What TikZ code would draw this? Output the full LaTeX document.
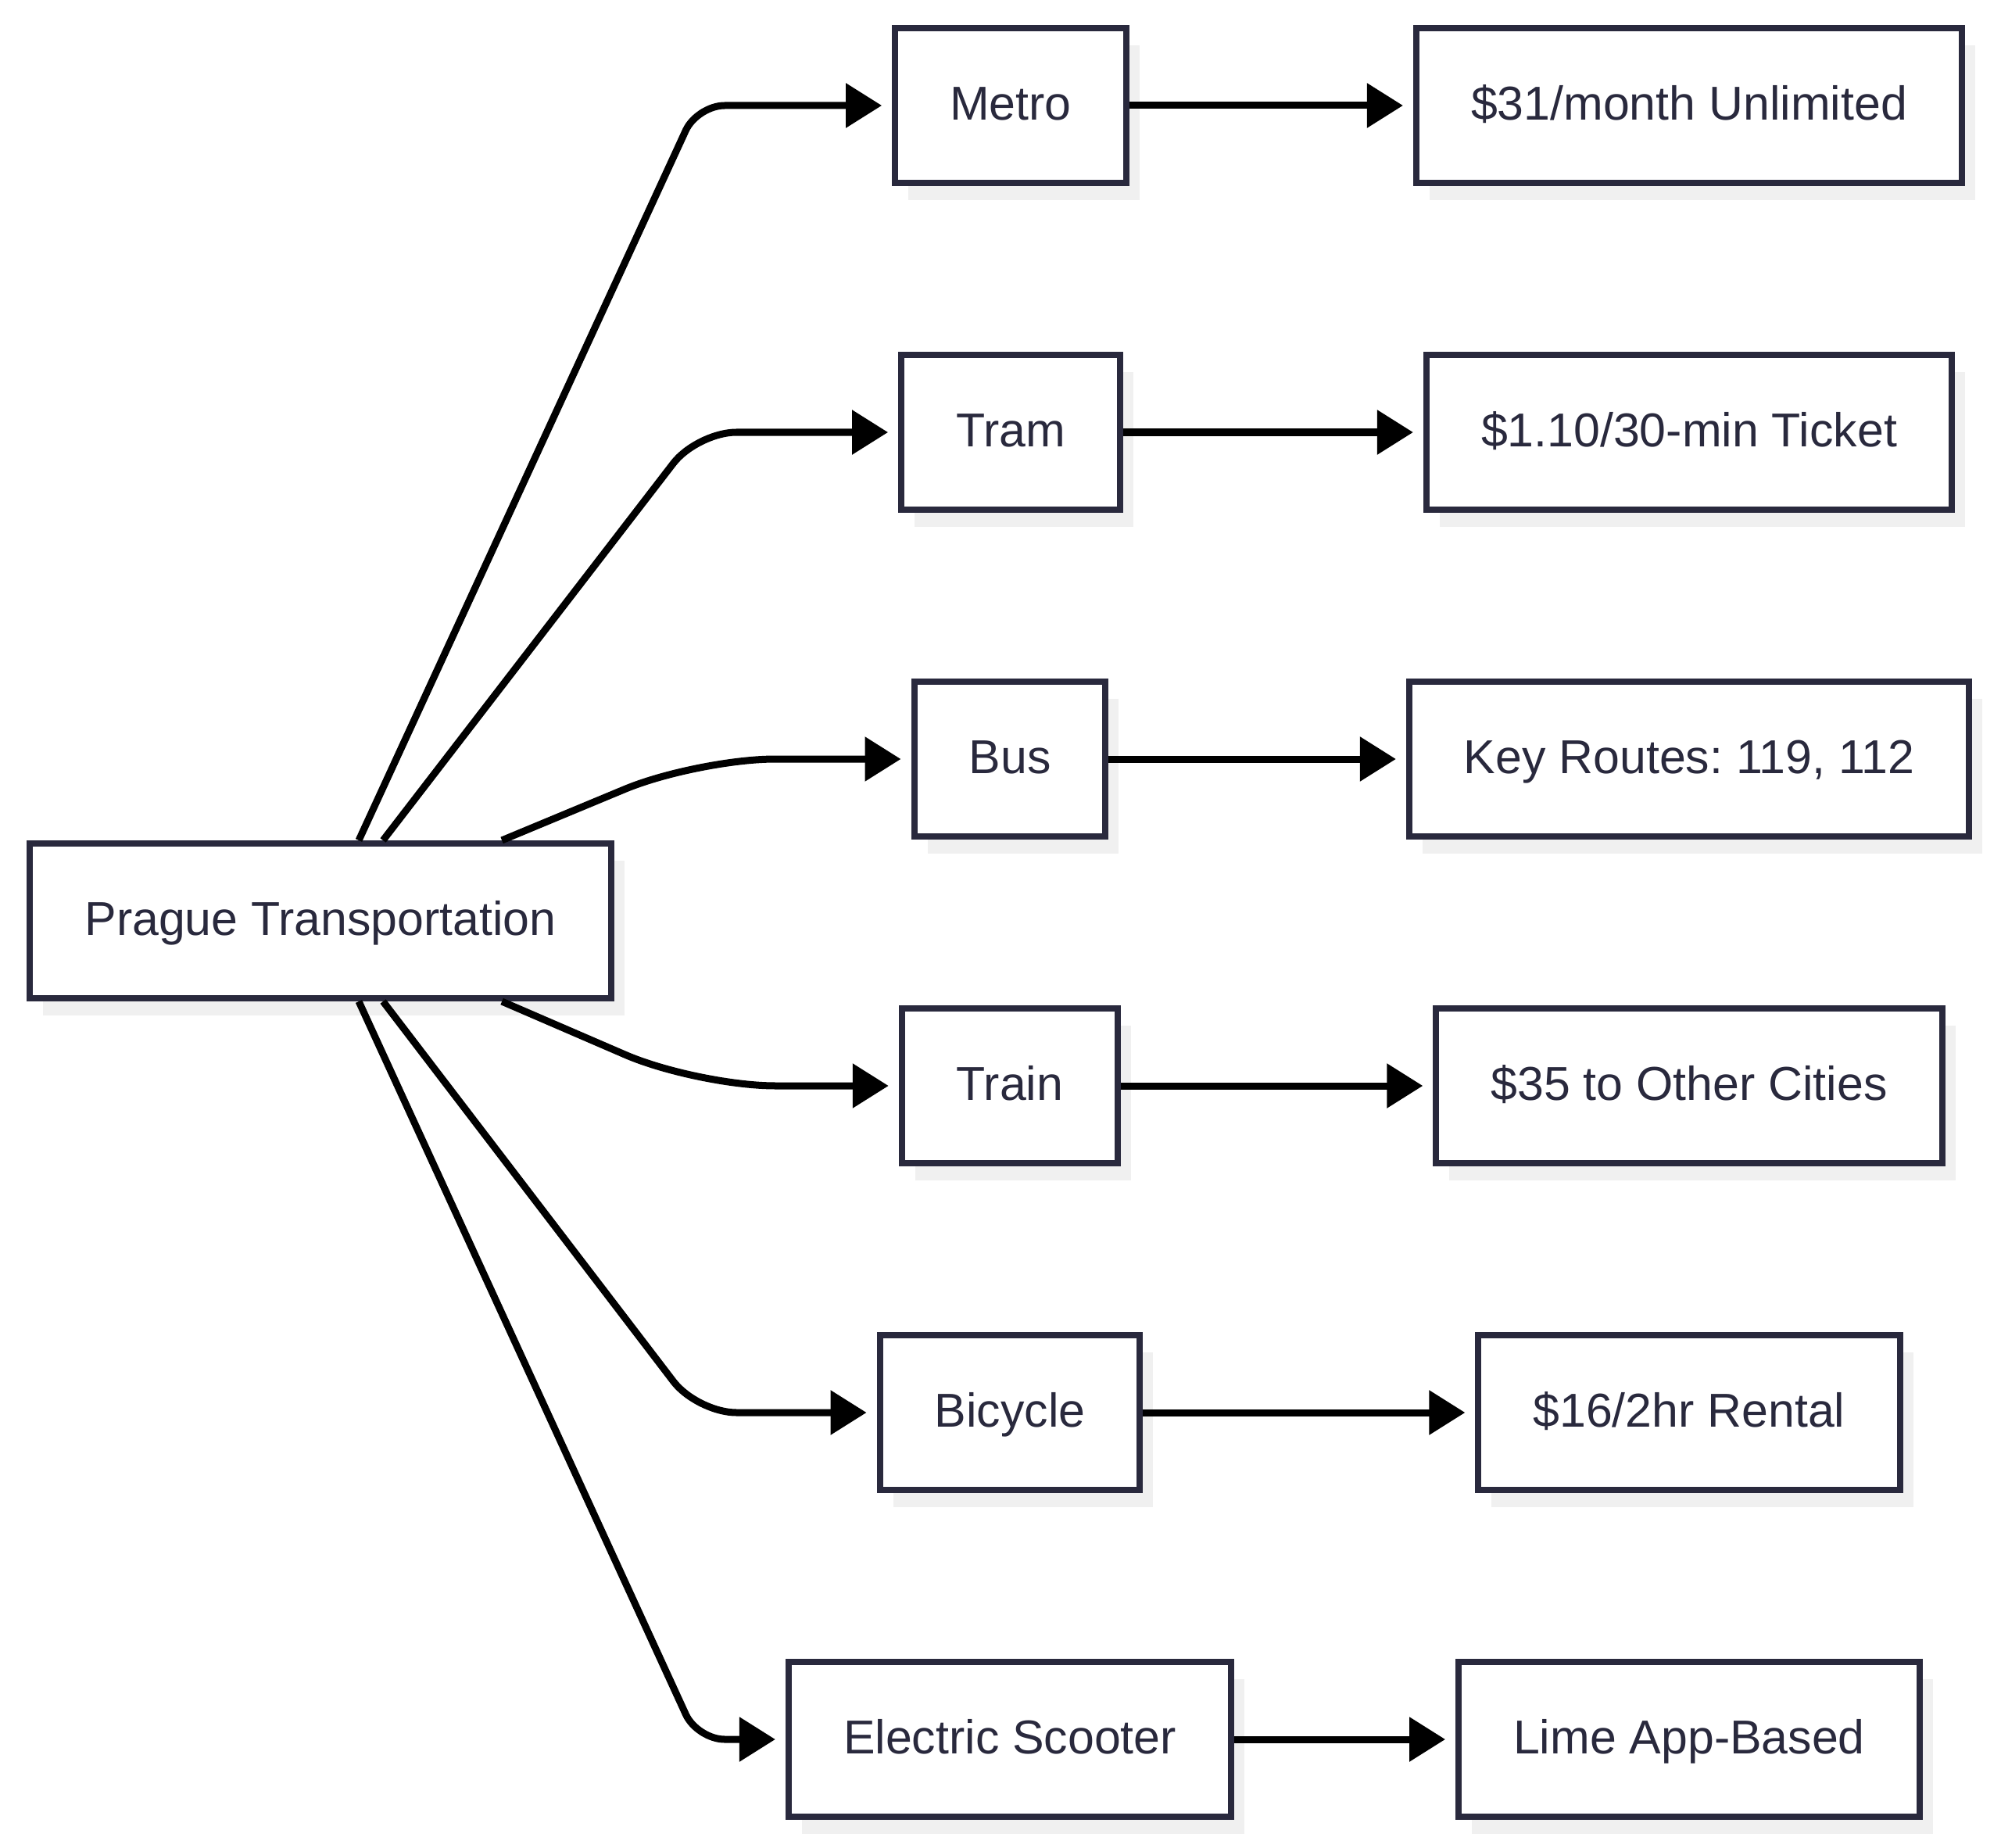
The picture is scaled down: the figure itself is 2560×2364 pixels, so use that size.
\documentclass[tikz,border=0pt]{standalone}
\usepackage{fontspec}
\setmainfont{Liberation Sans}
\usepackage{tikz}
\usetikzlibrary{arrows.meta,positioning,calc,shadows}
\definecolor{boxline}{RGB}{41,41,61}
\definecolor{boxshade}{RGB}{240,240,240}
\frenchspacing

\begin{document}
\begin{tikzpicture}[x=0.01cm,y=-0.01cm,
  mode/.style={draw=boxline,line width=0.08cm,fill=white,text=boxline,
    inner xsep=0.70cm,minimum height=1.98cm,text height=1.26em,text depth=0.2em,
    font=\fontsize{17.3}{20.8}\selectfont,
    drop shadow={shadow xshift=0.17cm,shadow yshift=-0.22cm,fill=boxshade,opacity=1}},
  link/.style={line width=0.09cm,-{Triangle[length=0.46cm,width=0.55cm]},shorten >=0.13cm}]
  \useasboundingbox (0,0) rectangle (2560,2364); % 図全体の大きさ（余白を含む）
  \node[mode] (pt) at (410,1178) {Prague Transportation}; % 左端の起点となる箱
  \node[mode] (metro) at (1293,135) {Metro}; % 中央列：地下鉄
  \node[mode] (tram) at (1293,553) {Tram}; % 中央列：路面電車
  \node[mode] (bus) at (1292,971) {Bus}; % 中央列：バス
  \node[mode] (train) at (1292,1389) {Train}; % 中央列：鉄道
  \node[mode] (bike) at (1292,1807) {Bicycle}; % 中央列：自転車
  \node[mode] (scooter) at (1292,2225) {Electric Scooter}; % 中央列：電動キックボード
  \node[mode] (metrocost) at (2161,135) {\$31/month Unlimited}; % 右列：地下鉄の料金
  \node[mode] (tramcost) at (2161,553) {\$1.10/30-min Ticket}; % 右列：路面電車の料金
  \node[mode] (busroute) at (2161,971) {Key Routes: 119, 112}; % 右列：主なバス路線
  \node[mode] (traincost) at (2161,1389) {\$35 to Other Cities}; % 右列：鉄道の料金
  \node[mode] (bikecost) at (2161,1807) {\$16/2hr Rental}; % 右列：自転車の料金
  \node[mode] (scooterapp) at (2161,2225) {Lime App-Based}; % 右列：キックボードの利用方法
  \coordinate (bend) at (892,0); % 折れ曲がり位置の横座標
  \draw[link,rounded corners=0.35cm] ([xshift=0.49cm]pt.north) -- (bend |- metro) -- (metro.west); % 起点から地下鉄へ
  \draw[link,rounded corners=0.5cm] ([xshift=0.80cm]pt.north) -- (bend |- tram) -- (tram.west); % 起点から路面電車へ
  \draw[link,rounded corners=1.0cm] ([xshift=2.32cm]pt.north) -- (bend |- bus) -- (bus.west); % 起点からバスへ
  \draw[link,rounded corners=1.0cm] ([xshift=2.32cm]pt.south) -- (bend |- train) -- (train.west); % 起点から鉄道へ
  \draw[link,rounded corners=0.5cm] ([xshift=0.80cm]pt.south) -- (bend |- bike) -- (bike.west); % 起点から自転車へ
  \draw[link,rounded corners=0.35cm] ([xshift=0.49cm]pt.south) -- (bend |- scooter) -- (scooter.west); % 起点からキックボードへ
  \draw[link] (metro) -- (metrocost); % 地下鉄から料金へ
  \draw[link] (tram) -- (tramcost); % 路面電車から料金へ
  \draw[link] (bus) -- (busroute); % バスから路線へ
  \draw[link] (train) -- (traincost); % 鉄道から料金へ
  \draw[link] (bike) -- (bikecost); % 自転車から料金へ
  \draw[link] (scooter) -- (scooterapp); % キックボードから利用方法へ
\end{tikzpicture}
\end{document}
